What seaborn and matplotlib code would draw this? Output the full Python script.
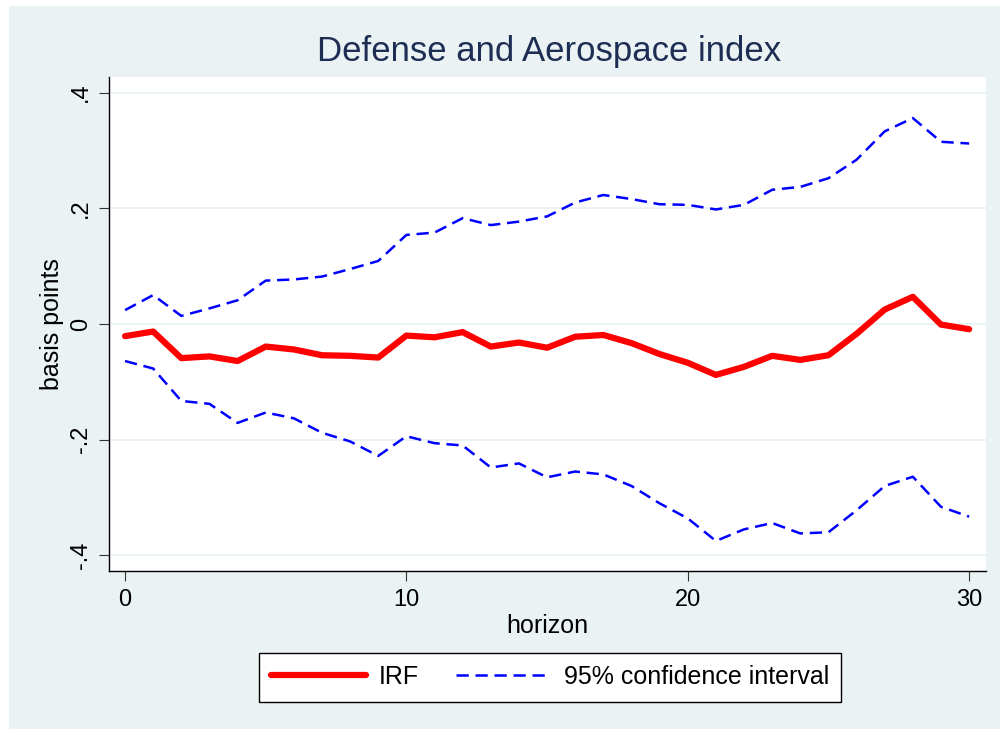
import matplotlib
matplotlib.use("Agg")
import matplotlib.pyplot as plt
from matplotlib.lines import Line2D
from matplotlib.patches import Rectangle
import seaborn as sns
import pandas as pd

# impulse response values
horizon = list(range(31))
irf = [-0.021, -0.013, -0.059, -0.056, -0.064, -0.039, -0.044, -0.054, -0.055, -0.058,
       -0.020, -0.023, -0.014, -0.039, -0.032, -0.041, -0.022, -0.019, -0.033, -0.052,
       -0.067, -0.088, -0.074, -0.055, -0.062, -0.054, -0.017, 0.025, 0.047, -0.001, -0.009]
upper = [0.024, 0.050, 0.014, 0.027, 0.041, 0.075, 0.077, 0.082, 0.095, 0.109,
         0.154, 0.158, 0.183, 0.171, 0.177, 0.186, 0.210, 0.223, 0.216, 0.207,
         0.206, 0.198, 0.206, 0.232, 0.237, 0.252, 0.284, 0.333, 0.356, 0.315, 0.312]
lower = [-0.064, -0.077, -0.133, -0.138, -0.171, -0.153, -0.163, -0.188, -0.203, -0.228,
         -0.194, -0.206, -0.210, -0.248, -0.241, -0.265, -0.255, -0.260, -0.280, -0.310,
         -0.336, -0.375, -0.355, -0.344, -0.362, -0.360, -0.322, -0.280, -0.264, -0.316, -0.333]
yticks = [-0.4, -0.2, 0, 0.2, 0.4]
ytick_labels = ["-.4", "-.2", "0", ".2", ".4"]
xticks = [0, 10, 20, 30]

df = pd.DataFrame({"horizon": horizon, "irf": irf, "upper": upper, "lower": lower})

sns.set_style("white")
plt.rcParams["font.family"] = ["Liberation Sans", "DejaVu Sans"]
plt.rcParams["text.color"] = "black"
plt.rcParams["axes.labelcolor"] = "black"

bg = "#EAF2F3"
fig = plt.figure(figsize=(10, 7.29), dpi=100)
fig.patch.set_facecolor("white")
fig.patches.append(Rectangle((0.009, 0), 0.991, 1 - 6 / 729, transform=fig.transFigure,
                             facecolor=bg, edgecolor="none", zorder=-10))

ax = fig.add_axes([0.109, 0.2167, 0.877, 0.6777])
ax.set_facecolor("white")

ci_lw = 1.8
dash = (4.9, 2.7)
sns.lineplot(data=df, x="horizon", y="upper", ax=ax, color="#0000FF", lw=ci_lw)
sns.lineplot(data=df, x="horizon", y="lower", ax=ax, color="#0000FF", lw=ci_lw)
for ln in ax.lines:
    ln.set_dashes(dash)
sns.lineplot(data=df, x="horizon", y="irf", ax=ax, color="#FF0000", lw=4.5)

for y in yticks:
    ax.axhline(y, color=bg, lw=1.3, zorder=0)

ax.set_xlim(-0.57, 30.6)
ax.set_ylim(-0.427, 0.427)
ax.set_xticks(xticks)
ax.set_xticklabels([str(t) for t in xticks])
ax.set_yticks(yticks)
ax.set_yticklabels(ytick_labels, rotation=90, va="center")

for s in ["top", "right"]:
    ax.spines[s].set_visible(False)
for s in ["left", "bottom"]:
    ax.spines[s].set_color("black")
    ax.spines[s].set_linewidth(1.0)

ax.tick_params(axis="both", direction="out", length=7.2, width=0.8, color="#333333",
               labelsize=17, labelcolor="black", left=True, bottom=True)
ax.tick_params(axis="x", pad=6)
ax.tick_params(axis="y", pad=5)

ax.set_xlabel("horizon", fontsize=18, va="center")
ax.xaxis.set_label_coords(0.5, -0.111)
ax.set_ylabel("basis points", fontsize=18, va="center")
ax.yaxis.set_label_coords(-0.065, 0.5)

fig.text(0.549, 1 - 52 / 729, "Defense and Aerospace index", ha="center", va="center",
         fontsize=25, color="#1E2D53")

handles = [Line2D([], [], color="#FF0000", lw=4.5),
           Line2D([], [], color="#0000FF", lw=ci_lw, dashes=dash)]
leg = fig.legend(handles, ["IRF", "95% confidence interval"], loc="center",
                 bbox_to_anchor=(0.550, 1 - 677 / 729), ncol=2, fontsize=18,
                 frameon=True, fancybox=False, handlelength=3.8, handletextpad=0.5,
                 columnspacing=1.5, borderpad=0.5)
leg.get_frame().set_edgecolor("black")
leg.get_frame().set_linewidth(1.0)
leg.get_frame().set_facecolor("white")
leg.get_frame().set_alpha(1)

fig.savefig("out.png", dpi=100, facecolor=fig.get_facecolor())
